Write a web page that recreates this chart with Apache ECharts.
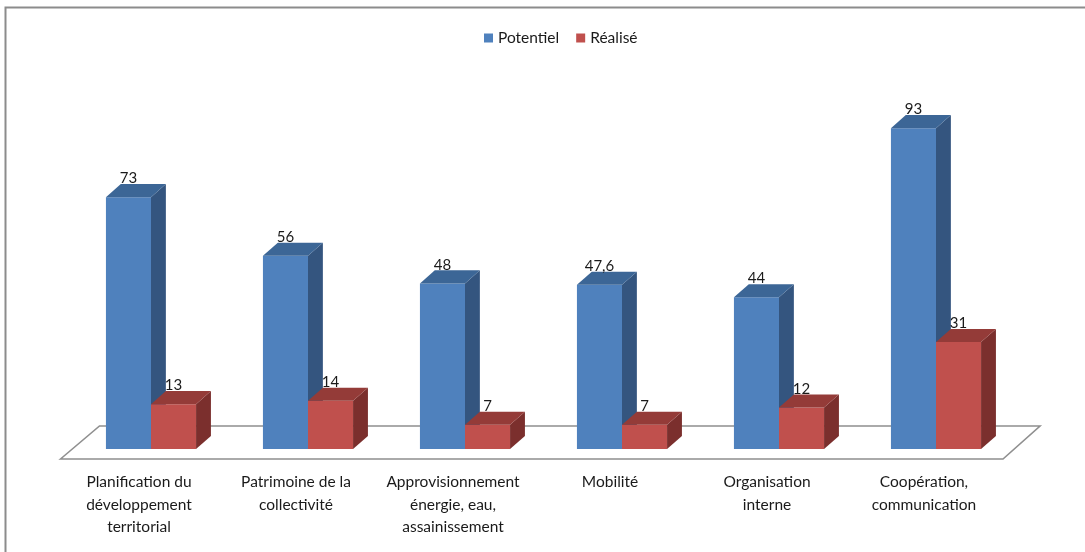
<!DOCTYPE html>
<html>
<head>
<meta charset="utf-8">
<script src="https://cdn.jsdelivr.net/npm/echarts@6/dist/echarts.min.js"></script>
<style>
  html, body { margin: 0; padding: 0; background: #fff; }
  #chart { width: 1085px; height: 552px; }
</style>
</head>
<body>
<div id="chart"></div>
<script>
  const categories = [
    'Planification du\ndéveloppement\nterritorial',
    'Patrimoine de la\ncollectivité',
    'Approvisionnement\nénergie, eau,\nassainissement',
    'Mobilité',
    'Organisation\ninterne',
    'Coopération,\ncommunication'
  ];
  const potentiel = [73, 56, 48, 47.6, 44, 93];
  const realise = [13, 14, 7, 7, 12, 31];

  const FONT = 'Lato, "Open Sans", sans-serif';

  // une barre "3D" façon Excel : face avant, dessus, côté
  function barRenderer(slot, front, top, side) {
    return function (params, api) {
      const cat = api.value(0);
      const val = api.value(1);
      const band = api.size([1, 0])[0];
      const bw = band * 0.287;
      const dx = bw * 0.33;
      const dy = bw * 0.29;
      const base = api.coord([cat, 0]);
      const head = api.coord([cat, val]);
      const x0 = base[0] + (slot - 1) * bw;
      const yb = base[1];
      const yt = head[1];
      return {
        type: 'group',
        children: [
          { type: 'rect', shape: { x: x0, y: yt, width: bw, height: yb - yt }, style: { fill: front } },
          { type: 'polygon', shape: { points: [[x0 + bw, yt], [x0 + bw + dx, yt - dy], [x0 + bw + dx, yb - dy], [x0 + bw, yb]] }, style: { fill: side } },
          { type: 'polygon', shape: { points: [[x0, yt], [x0 + dx, yt - dy], [x0 + bw + dx, yt - dy], [x0 + bw, yt]] }, style: { fill: top } },
          {
            type: 'text',
            style: {
              x: x0 + bw / 2, y: yt - dy + 2,
              text: String(val).replace('.', ','),
              align: 'center', verticalAlign: 'bottom',
              fill: '#1a1a1a', font: '15px ' + FONT
            }
          }
        ]
      };
    };
  }

  function floorRenderer(params, api) {
    const cs = params.coordSys;
    const yb = cs.y + cs.height;
    return {
      type: 'polygon',
      shape: {
        points: [
          [cs.x - 12, yb + 10],
          [cs.x + 27, yb - 23],
          [cs.x + cs.width + 25.5, yb - 23],
          [cs.x + cs.width - 11.5, yb + 10]
        ]
      },
      style: { fill: '#fff', stroke: '#8f8f8f', lineWidth: 1.6 }
    };
  }

  const chart = echarts.init(document.getElementById('chart'));
  chart.setOption({
    animation: false,
    graphic: [{
      type: 'rect',
      shape: { x: 5.5, y: 7.5, width: 1200, height: 700 },
      style: { fill: 'none', stroke: '#8c8c8c', lineWidth: 2 },
      z: 0
    }],
    legend: {
      data: ['Potentiel', 'Réalisé'],
      top: 25,
      left: 479,
      itemWidth: 9,
      itemHeight: 9,
      itemGap: 17,
      icon: 'rect',
      textStyle: { fontSize: 15.5, fontFamily: FONT, color: '#1a1a1a' }
    },
    grid: { left: 72.5, right: 70.5, top: 104, bottom: 103 },
    xAxis: {
      type: 'category',
      data: categories,
      axisLine: { show: false },
      axisTick: { show: false },
      axisLabel: {
        margin: 22,
        fontSize: 15.5,
        lineHeight: 22.5,
        fontFamily: FONT,
        color: '#1a1a1a',
        padding: [0, 24, 0, 0],
        interval: 0
      }
    },
    yAxis: { type: 'value', min: 0, max: 100, show: false },
    series: [
      {
        name: 'floor',
        type: 'custom',
        data: [[0, 0]],
        renderItem: floorRenderer,
        z: 1,
        silent: true
      },
      {
        name: 'Potentiel',
        type: 'custom',
        itemStyle: { color: '#4f81bd' },
        data: potentiel.map((v, i) => [i, v]),
        encode: { x: 0, y: 1 },
        renderItem: barRenderer(0, '#4f81bd', '#3c6696', '#34557f'),
        z: 2
      },
      {
        name: 'Réalisé',
        type: 'custom',
        itemStyle: { color: '#c0504d' },
        data: realise.map((v, i) => [i, v]),
        encode: { x: 0, y: 1 },
        renderItem: barRenderer(1, '#c0504d', '#943b38', '#7b2f2d'),
        z: 2
      }
    ]
  });
</script>
</body>
</html>
